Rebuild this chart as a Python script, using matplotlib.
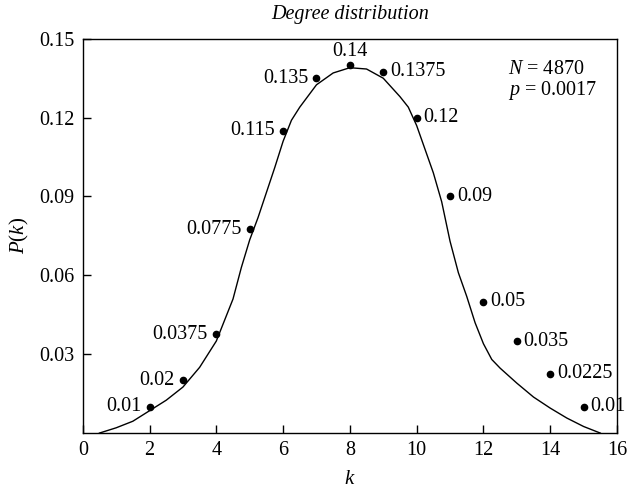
import matplotlib
matplotlib.use("Agg")
import matplotlib.pyplot as plt

plt.rcParams['font.family'] = ['Liberation Serif', 'DejaVu Serif']
plt.rcParams['mathtext.fontset'] = 'custom'
plt.rcParams['mathtext.rm'] = 'Liberation Serif'
plt.rcParams['mathtext.it'] = 'Liberation Serif:italic'

# observed degree probabilities
k_obs = [2, 3, 4, 5, 6, 7, 8, 9, 10, 11, 12, 13, 14, 15]
p_obs = [0.01, 0.02, 0.0375, 0.0775, 0.115, 0.135, 0.14, 0.1375, 0.12, 0.09,
         0.05, 0.035, 0.0225, 0.01]
p_text = ['0.01', '0.02', '0.0375', '0.0775', '0.115', '0.135', '0.14', '0.1375',
          '0.12', '0.09', '0.05', '0.035', '0.0225', '0.01']

# fitted curve
k_fit = [0.5, 1.0, 1.5, 2.0, 2.5, 3.0, 3.5, 4.0, 4.5, 4.75, 5.0, 5.25, 5.5, 5.75,
         6.0, 6.25, 6.5, 7.0, 7.5, 8.0, 8.5, 9.0, 9.5, 9.75, 10.0, 10.25, 10.5,
         10.75, 11.0, 11.25, 11.5, 11.75, 12.0, 12.25, 12.5, 13.0, 13.5, 14.0,
         14.5, 15.0, 15.5]
p_fit = [0.0, 0.002, 0.0045, 0.0085, 0.0125, 0.0175, 0.025, 0.035, 0.051, 0.063,
         0.0735, 0.082, 0.0915, 0.101, 0.111, 0.119, 0.124, 0.1325, 0.137, 0.139,
         0.1385, 0.135, 0.128, 0.124, 0.117, 0.108, 0.099, 0.088, 0.073, 0.061,
         0.052, 0.042, 0.034, 0.028, 0.0247, 0.019, 0.0137, 0.0095, 0.0057,
         0.0025, 0.0]

fig = plt.figure(figsize=(6.27, 4.91), dpi=100)
ax = fig.add_axes([0.132, 0.118, 0.852, 0.803])

ax.plot(k_fit, p_fit, color='black', lw=1.0)
ax.plot(k_obs, p_obs, 'o', color='black', ms=4.5)

for k, p, t in zip(k_obs, p_obs, p_text):
    if k < 8:
        ax.annotate(t, (k, p), xytext=(-6, 0), textcoords='offset points',
                    ha='right', va='center', fontsize=14.5)
    elif k == 8:
        ax.annotate(t, (k, p), xytext=(0, 3), textcoords='offset points',
                    ha='center', va='bottom', fontsize=14.5)
    else:
        ax.annotate(t, (k, p), xytext=(5, 0), textcoords='offset points',
                    ha='left', va='center', fontsize=14.5)

ax.text(12.75, 0.1418, '$N$ = 4870\n$p$ = 0.0017', ha='left', va='top',
        fontsize=14.5, linespacing=0.95)

ax.set_xlim(0, 16)
ax.set_ylim(0, 0.15)
ax.set_xticks(range(0, 17, 2))
ax.set_yticks([0.03, 0.06, 0.09, 0.12, 0.15])
ax.set_yticklabels(['0.03', '0.06', '0.09', '0.12', '0.15'])
ax.tick_params(direction='in', labelsize=14.5, length=6, width=1, pad=6)
for s in ax.spines.values():
    s.set_linewidth(1.0)

ax.set_xlabel('$k$', fontsize=15, labelpad=7)
ax.set_ylabel('$P(k)$', fontsize=15, labelpad=6)
ax.set_title('Degree distribution', fontsize=14.5, style='italic', pad=14)

fig.savefig('out.png', dpi=100)
